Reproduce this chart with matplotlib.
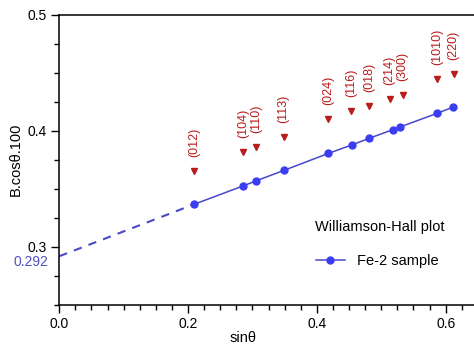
import matplotlib
matplotlib.use("Agg")
import matplotlib.pyplot as plt
import numpy as np

plt.rcParams['font.family'] = ['Liberation Sans', 'DejaVu Sans']

hkl = ['(012)', '(104)', '(110)', '(113)', '(024)', '(116)', '(018)',
       '(214)', '(300)', '(1010)', '(220)']
sin_theta = [0.209, 0.286, 0.306, 0.349, 0.418, 0.454, 0.481,
             0.518, 0.529, 0.587, 0.611]
b_cos = [0.3366, 0.3526, 0.3569, 0.3659, 0.3805, 0.3877, 0.3934,
         0.4009, 0.4032, 0.4150, 0.4202]
marker_x = [0.209, 0.2853, 0.3059, 0.3485, 0.4177, 0.4534, 0.4814,
            0.5131, 0.5333, 0.5870, 0.6124]
marker_y = [0.3655, 0.3819, 0.3857, 0.3948, 0.4098, 0.4167, 0.4213,
            0.4276, 0.4310, 0.4443, 0.4486]
intercept = 0.292
series_label = 'Fe-2 sample'
legend_title = 'Williamson-Hall plot'

W, H = 474, 344
fig = plt.figure(figsize=(W / 100, H / 100), dpi=100)
ax = fig.add_axes([59.3 / W, 1 - 305 / H, (W - 59.3) / W, (305 - 14.5) / H])

blue_line = '#4646cc'
blue_mk = '#3c3cf2'
red = '#b81c1c'

# dashed extrapolation to intercept
ax.plot([0.0, sin_theta[0]], [intercept, b_cos[0]], ls=(0, (4, 3.5)),
        color='#4a4ac4', lw=1.5)
ax.plot(sin_theta, b_cos, '-o', color=blue_line, mfc=blue_mk, mec=blue_mk,
        ms=5, lw=1.1, label=series_label)
ax.plot(marker_x, marker_y, 'v', color=red, ms=4.5, ls='none')

for x, y, t in zip(marker_x, marker_y, hkl):
    ax.annotate(t, (x, y), xytext=(0, 10), textcoords='offset points',
                rotation=90, ha='center', va='bottom', color=red, fontsize=9)

ax.set_xlim(0.0, 0.644)
ax.set_ylim(0.25, 0.5)
ax.set_xticks([0.0, 0.2, 0.4, 0.6])
ax.set_xticks(np.arange(0, 0.65, 0.025), minor=True)
ax.set_yticks([0.3, 0.4, 0.5])
ax.set_yticks(np.arange(0.25, 0.5001, 0.025), minor=True)
ax.set_xticklabels(['0.0', '0.2', '0.4', '0.6'])
ax.set_yticklabels(['0.3', '0.4', '0.5'])
ax.tick_params(which='major', direction='out', length=6, width=1, labelsize=10, pad=3)
ax.tick_params(which='minor', direction='out', length=3.5, width=1)
ax.spines['right'].set_visible(False)
for s in ['left', 'bottom', 'top']:
    ax.spines[s].set_linewidth(1.1)

ax.text(-0.017, 0.2868, '0.292', color='#5050c0', fontsize=10,
        ha='right', va='center')

ax.set_xlabel('sinθ', fontsize=10.5)
ax.xaxis.set_label_coords((243 - 59.3) / (W - 59.3), -0.09)
ax.set_ylabel('B.cosθ.100', fontsize=10.5)
ax.yaxis.set_label_coords(-0.0875, 0.5)

fig.text(380 / W, 1 - 226.7 / H, legend_title, fontsize=10.5,
         ha='center', va='center')
fig.legend(loc='center', bbox_to_anchor=(377 / W, 1 - 261 / H), frameon=False,
           fontsize=10.5, handlelength=2.0, handletextpad=0.8, borderpad=0)

fig.savefig('out.png', dpi=100)
